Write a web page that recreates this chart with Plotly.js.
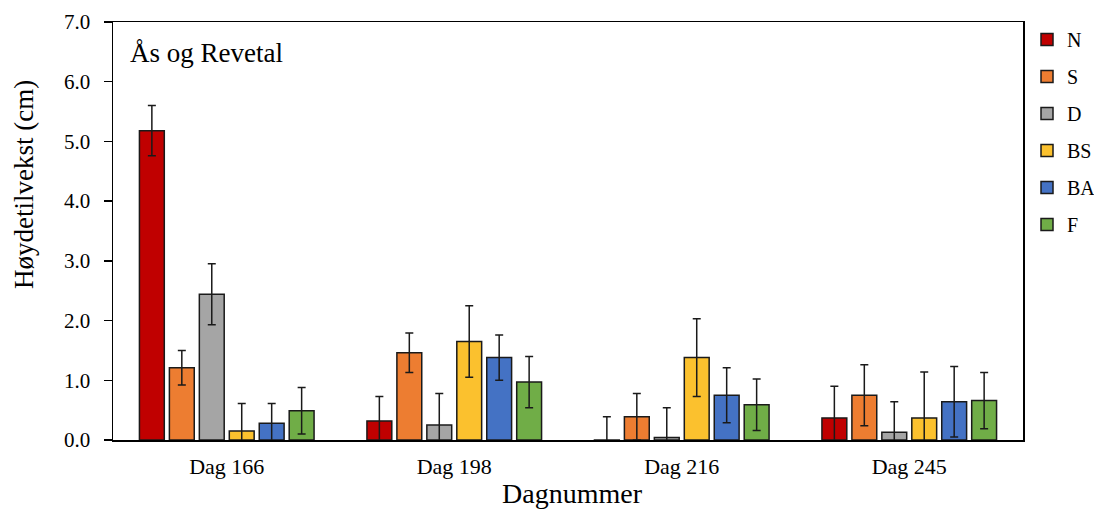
<!DOCTYPE html>
<html>
<head>
<meta charset="utf-8">
<script src="https://cdn.plot.ly/plotly-3.0.1.min.js"></script>
<style>html,body{margin:0;padding:0;background:#fff;}#chart{width:1094px;height:510px;}</style>
</head>
<body>
<div id="chart"></div>
<script>
const categories = ["Dag 166", "Dag 198", "Dag 216", "Dag 245"];
const seriesNames = ["N", "S", "D", "BS", "BA", "F"];
const valN  = [5.18, 0.32, -0.02, 0.37];
const valS  = [1.21, 1.46, 0.39, 0.75];
const valD  = [2.44, 0.25, 0.04, 0.13];
const valBS = [0.15, 1.65, 1.38, 0.37];
const valBA = [0.28, 1.38, 0.75, 0.64];
const valF  = [0.49, 0.97, 0.59, 0.66];
const errN  = [0.42, 0.41, 0.41, 0.53];
const errS  = [0.29, 0.33, 0.39, 0.51];
const errD  = [0.51, 0.53, 0.50, 0.51];
const errBS = [0.46, 0.60, 0.65, 0.77];
const errBA = [0.33, 0.38, 0.46, 0.59];
const errF  = [0.39, 0.43, 0.43, 0.47];
const yTitle = "Høydetilvekst (cm)";
const xTitle = "Dagnummer";
const panelLabel = "Ås og Revetal";

const values = [valN, valS, valD, valBS, valBA, valF];
const errors = [errN, errS, errD, errBS, errBA, errF];
const colors = ["#C00000", "#ED7D31", "#A5A5A5", "#FBC12E", "#4472C4", "#70AD47"];

const traces = seriesNames.map((name, i) => ({
  type: "bar",
  name: name,
  x: categories,
  y: values[i],
  legendgroup: name,
  marker: {color: colors[i], line: {color: "#1a1a1a", width: 1.5}},
  error_y: {type: "data", array: errors[i], visible: true, color: "#1a1a1a", thickness: 1.5, width: 4}
}));

const font = "Liberation Serif";
const layout = {
  width: 1094, height: 510,
  margin: {l: 113, r: 71, t: 22, b: 70, autoexpand: false},
  paper_bgcolor: "#fff", plot_bgcolor: "#fff",
  font: {family: font, color: "#000", size: 16},
  barmode: "group",
  bargap: 0.21,
  bargroupgap: 0.17,
  showlegend: true,
  legend: {x: 1.0044, xanchor: "left", y: 1.005, yanchor: "top", font: {family: font, size: 20, color: "#000"},
           tracegroupgap: 8, itemwidth: 30, bgcolor: "rgba(0,0,0,0)"},
  xaxis: {
    type: "category",
    showline: true, linecolor: "#000", linewidth: 1.5, mirror: true,
    ticks: "", showgrid: false, zeroline: false,
    ticklabelstandoff: 6,
    tickfont: {family: font, size: 22, color: "#000"}
  },
  yaxis: {
    range: [0, 7], dtick: 1, tickformat: ".1f",
    showline: true, linecolor: "#000", linewidth: 1.5, mirror: true,
    ticks: "outside", ticklen: 8, tickcolor: "#000", tickwidth: 1.5,
    showgrid: false, zeroline: false,
    ticklabelstandoff: 9,
    tickfont: {family: font, size: 21, color: "#000"}
  },
  annotations: [
    {text: panelLabel, xref: "paper", yref: "paper", x: 0.017, y: 0.926,
     xanchor: "left", yanchor: "middle", showarrow: false,
     font: {family: font, size: 27, color: "#000"}},
    {text: yTitle, xref: "paper", yref: "paper", x: -0.0978, y: 0.61, textangle: -90,
     xanchor: "center", yanchor: "middle", showarrow: false,
     font: {family: font, size: 27, color: "#000"}},
    {text: xTitle, xref: "paper", yref: "paper", x: 0.505, y: -0.1275,
     xanchor: "center", yanchor: "middle", showarrow: false,
     font: {family: font, size: 28, color: "#000"}}
  ]
};

Plotly.newPlot("chart", traces, layout, {displayModeBar: false, staticPlot: true});
</script>
</body>
</html>
